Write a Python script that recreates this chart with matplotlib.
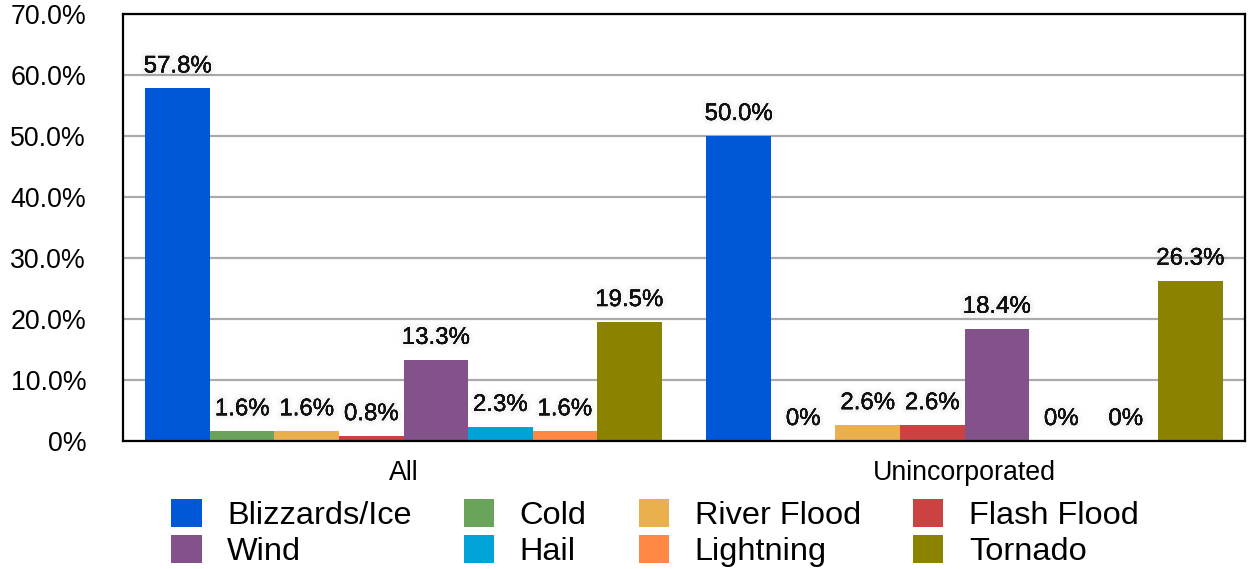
import matplotlib
matplotlib.use("Agg")
import matplotlib.pyplot as plt
import matplotlib.patheffects as pe
import numpy as np

categories = ["All", "Unincorporated"]
series = ["Blizzards/Ice", "Cold", "River Flood", "Flash Flood",
          "Wind", "Hail", "Lightning", "Tornado"]
values_all = [57.8, 1.6, 1.6, 0.8, 13.3, 2.3, 1.6, 19.5]
values_uninc = [50.0, 0.0, 2.6, 2.6, 18.4, 0.0, 0.0, 26.3]
colors = ["#0057d8", "#6aa35a", "#ebb04e", "#cc4242",
          "#84528b", "#00a3d7", "#ff8845", "#8b8300"]
yticks = [0, 10, 20, 30, 40, 50, 60, 70]

plt.rcParams['font.family'] = ['Liberation Sans', 'DejaVu Sans']

fig = plt.figure(figsize=(12.49, 5.69), dpi=100)
ax = fig.add_axes([123/1249, 1-441/569, (1245-123)/1249, (441-14)/569])

data = np.array([values_all, values_uninc])
x = np.arange(len(categories))
group_w = 0.92
bw = group_w / len(series)

shadow = [pe.withStroke(linewidth=7, foreground=(0, 0, 0, 0.014)),
          pe.withStroke(linewidth=4.5, foreground=(0, 0, 0, 0.02)),
          pe.Normal()]

handles = []
for i, (name, col) in enumerate(zip(series, colors)):
    pos = x - group_w/2 + bw*(i + 0.5)
    bars = ax.bar(pos, data[:, i], width=bw, color=col, label=name, zorder=3,
                  linewidth=0)
    handles.append(bars)
    for p, v in zip(pos, data[:, i]):
        txt = "0%" if v == 0 else f"{v:.1f}%"
        ax.annotate(txt, (p, v), xytext=(0, 11.5), textcoords="offset points",
                    ha="center", va="baseline", fontsize=17.3, color="#111111",
                    path_effects=shadow, zorder=5)

ax.set_xlim(-0.5, 1.5)
ax.set_ylim(0, 70)
ax.set_yticks(yticks)
ax.set_yticklabels(["0%" if t == 0 else f"{t:.1f}%" for t in yticks], fontsize=19.3)
ax.set_xticks(x)
ax.set_xticklabels(categories, fontsize=19.3)
ax.tick_params(axis='both', length=0)
ax.tick_params(axis='y', pad=26.5)
ax.tick_params(axis='x', pad=14)
ax.yaxis.grid(True, color="#aaaaaa", linewidth=1.6, zorder=0)
ax.set_axisbelow(True)
for s in ax.spines.values():
    s.set_linewidth(1.6)
    s.set_color("black")
    s.set_zorder(4)

# legend filled row by row (matplotlib fills columns first)
order = [0, 4, 1, 5, 2, 6, 3, 7]
fig.legend(handles=[handles[k] for k in order], labels=[series[k] for k in order],
           ncol=4, loc="center",
           bbox_to_anchor=(655/1249, 1-533/569), frameon=False,
           fontsize=23.4, handlelength=0.94, handleheight=0.94,
           handletextpad=0.78, columnspacing=1.6, labelspacing=0.12)

fig.savefig("out.png", dpi=100)
